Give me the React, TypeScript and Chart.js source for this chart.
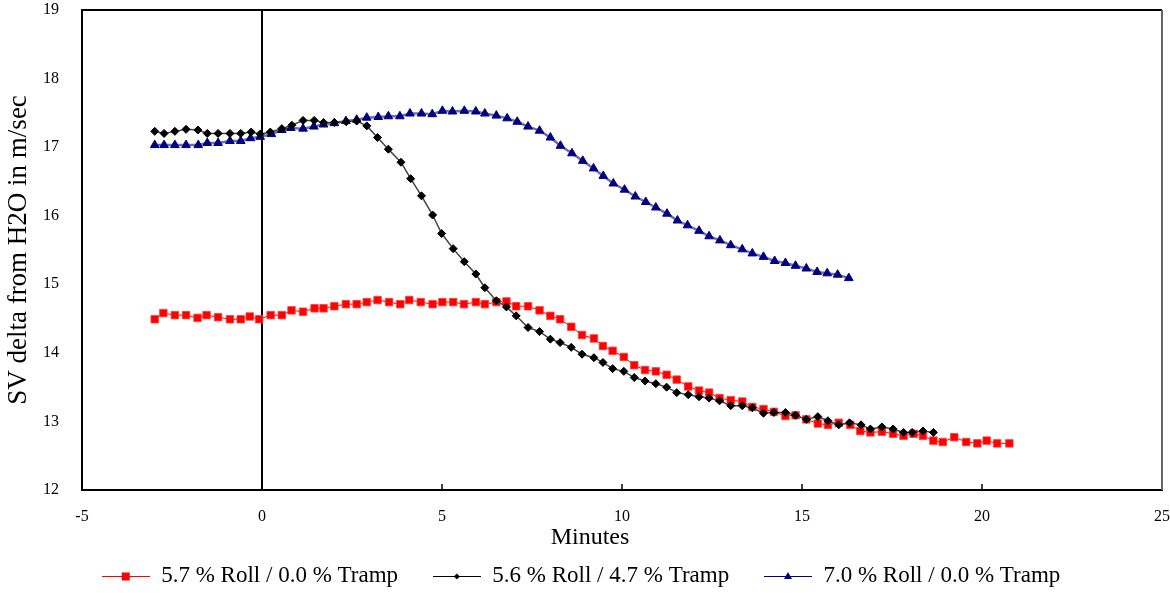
import React, { useEffect, useRef } from 'react';
import { Chart, registerables } from 'chart.js';

Chart.register(...registerables);

const FONT = "'Liberation Serif', 'Times New Roman', serif";

const seriesLabels = [
  '5.7 % Roll / 0.0 % Tramp',
  '5.6 % Roll / 4.7 % Tramp',
  '7.0 % Roll / 0.0 % Tramp',
];

const xTickValues = [-5, 0, 5, 10, 15, 20, 25];
const yTickValues = [12, 13, 14, 15, 16, 17, 18, 19];

const redX = [-2.98, -2.74, -2.42, -2.11, -1.79, -1.54, -1.22, -0.89, -0.59, -0.34, -0.08, 0.24, 0.55, 0.82, 1.14, 1.46, 1.71, 2.01, 2.33, 2.63, 2.91, 3.21, 3.53, 3.84, 4.09, 4.41, 4.74, 5.01, 5.31, 5.61, 5.94, 6.19, 6.51, 6.79, 7.06, 7.39, 7.71, 8.01, 8.28, 8.59, 8.89, 9.22, 9.47, 9.74, 10.05, 10.34, 10.64, 10.94, 11.24, 11.52, 11.84, 12.14, 12.42, 12.71, 13.02, 13.34, 13.62, 13.93, 14.22, 14.54, 14.82, 15.12, 15.44, 15.72, 16.02, 16.34, 16.62, 16.9, 17.22, 17.53, 17.82, 18.1, 18.36, 18.65, 18.91, 19.23, 19.56, 19.87, 20.13, 20.42, 20.76];
const redY = [14.49, 14.58, 14.55, 14.55, 14.51, 14.55, 14.52, 14.49, 14.49, 14.53, 14.49, 14.55, 14.55, 14.62, 14.6, 14.65, 14.65, 14.68, 14.71, 14.71, 14.74, 14.77, 14.74, 14.71, 14.77, 14.74, 14.71, 14.74, 14.74, 14.71, 14.74, 14.71, 14.74, 14.75, 14.68, 14.68, 14.62, 14.54, 14.49, 14.38, 14.26, 14.21, 14.1, 14.03, 13.94, 13.82, 13.75, 13.73, 13.68, 13.61, 13.51, 13.45, 13.42, 13.34, 13.31, 13.29, 13.21, 13.18, 13.14, 13.08, 13.09, 13.03, 12.97, 12.95, 12.98, 12.95, 12.86, 12.84, 12.85, 12.82, 12.79, 12.82, 12.79, 12.72, 12.7, 12.77, 12.7, 12.68, 12.72, 12.68, 12.68];

const blackX = [-2.98, -2.72, -2.42, -2.11, -1.78, -1.52, -1.22, -0.89, -0.59, -0.3, -0.05, 0.23, 0.55, 0.83, 1.14, 1.45, 1.71, 2.01, 2.34, 2.63, 2.91, 3.21, 3.51, 3.86, 4.13, 4.43, 4.74, 4.99, 5.31, 5.62, 5.94, 6.19, 6.51, 6.79, 7.06, 7.39, 7.71, 8.01, 8.28, 8.59, 8.89, 9.22, 9.47, 9.74, 10.05, 10.34, 10.64, 10.94, 11.24, 11.52, 11.84, 12.14, 12.42, 12.71, 13.02, 13.34, 13.62, 13.93, 14.22, 14.54, 14.82, 15.12, 15.44, 15.72, 16.02, 16.32, 16.64, 16.9, 17.22, 17.53, 17.82, 18.06, 18.36, 18.65];
const blackY = [17.23, 17.2, 17.23, 17.26, 17.25, 17.2, 17.2, 17.2, 17.2, 17.22, 17.19, 17.22, 17.27, 17.32, 17.39, 17.39, 17.36, 17.36, 17.37, 17.38, 17.31, 17.14, 16.97, 16.78, 16.54, 16.29, 16.01, 15.74, 15.52, 15.33, 15.15, 14.95, 14.76, 14.67, 14.54, 14.37, 14.31, 14.2, 14.15, 14.08, 13.98, 13.93, 13.86, 13.77, 13.73, 13.64, 13.59, 13.55, 13.5, 13.42, 13.39, 13.36, 13.34, 13.3, 13.23, 13.23, 13.2, 13.12, 13.13, 13.13, 13.09, 13.03, 13.07, 13.01, 12.95, 12.98, 12.95, 12.89, 12.92, 12.89, 12.84, 12.84, 12.86, 12.84];

const blueX = [-2.98, -2.72, -2.42, -2.11, -1.77, -1.52, -1.22, -0.89, -0.59, -0.32, -0.05, 0.26, 0.55, 0.8, 1.14, 1.44, 1.71, 2.01, 2.33, 2.63, 2.91, 3.23, 3.51, 3.83, 4.11, 4.43, 4.73, 5.01, 5.29, 5.62, 5.94, 6.19, 6.51, 6.81, 7.09, 7.39, 7.71, 8.01, 8.29, 8.61, 8.91, 9.21, 9.48, 9.76, 10.07, 10.37, 10.66, 10.94, 11.25, 11.54, 11.82, 12.14, 12.42, 12.72, 13.02, 13.34, 13.62, 13.93, 14.24, 14.54, 14.82, 15.12, 15.42, 15.7, 15.99, 16.3];
const blueY = [17.03, 17.03, 17.03, 17.03, 17.03, 17.06, 17.06, 17.09, 17.09, 17.13, 17.15, 17.19, 17.25, 17.28, 17.27, 17.3, 17.33, 17.35, 17.38, 17.4, 17.43, 17.44, 17.45, 17.45, 17.49, 17.49, 17.48, 17.53, 17.52, 17.53, 17.52, 17.49, 17.46, 17.42, 17.37, 17.3, 17.24, 17.14, 17.02, 16.91, 16.8, 16.69, 16.58, 16.47, 16.38, 16.28, 16.2, 16.12, 16.03, 15.93, 15.86, 15.78, 15.7, 15.64, 15.57, 15.51, 15.45, 15.4, 15.34, 15.31, 15.27, 15.23, 15.18, 15.16, 15.14, 15.09];

const toPoints = (xs: number[], ys: number[]) => xs.map((x, i) => ({ x, y: ys[i] }));

function legendGlyph(kind: 'rect' | 'diamond' | 'triangle', color: string): HTMLCanvasElement {
  const c = document.createElement('canvas');
  c.width = 48;
  c.height = 14;
  const g = c.getContext('2d')!;
  g.strokeStyle = color;
  g.fillStyle = color;
  g.lineWidth = 1;
  g.beginPath();
  g.moveTo(0, 7.5);
  g.lineTo(48, 7.5);
  g.stroke();
  g.beginPath();
  if (kind === 'rect') {
    g.rect(20, 3.5, 8, 8);
  } else if (kind === 'diamond') {
    g.moveTo(24, 4.5);
    g.lineTo(27, 7.5);
    g.lineTo(24, 10.5);
    g.lineTo(21, 7.5);
    g.closePath();
  } else {
    g.moveTo(24, 3);
    g.lineTo(28, 10);
    g.lineTo(20, 10);
    g.closePath();
  }
  g.fill();
  return c;
}

const framePlugin = {
  id: 'frame',
  afterLayout(chart: any) {
    const t = chart.titleBlock;
    if (t) {
      t.left = 10;
      t.right = 1170;
    }
  },
  beforeDatasetsDraw(chart: any) {
    const { ctx, chartArea: a, scales } = chart;
    ctx.save();
    ctx.lineWidth = 2;
    ctx.strokeStyle = '#000';
    ctx.beginPath();
    ctx.moveTo(a.left - 1, a.top);
    ctx.lineTo(a.right, a.top);
    ctx.stroke();
    ctx.strokeStyle = '#666';
    ctx.beginPath();
    ctx.moveTo(a.right, a.top);
    ctx.lineTo(a.right, a.bottom);
    ctx.stroke();
    ctx.strokeStyle = '#000';
    ctx.lineWidth = 1.5;
    scales.x.ticks.forEach((t: any) => {
      if (t.value > -5 && t.value < 25 && t.value !== 0) {
        const px = scales.x.getPixelForValue(t.value);
        ctx.beginPath();
        ctx.moveTo(px, a.bottom);
        ctx.lineTo(px, a.bottom - 6);
        ctx.stroke();
      }
    });
    ctx.restore();
  },
};

export default function App() {
  const ref = useRef<HTMLCanvasElement | null>(null);

  useEffect(() => {
    if (!ref.current) return;
    const glyphs = [
      legendGlyph('rect', '#ff0000'),
      legendGlyph('diamond', '#000000'),
      legendGlyph('triangle', '#000080'),
    ];
    const chart = new Chart(ref.current, {
      type: 'line',
      data: {
        datasets: [
          {
            label: seriesLabels[0],
            data: toPoints(redX, redY),
            borderColor: '#ff0000',
            borderWidth: 1,
            pointStyle: 'rect',
            pointRadius: 5.3,
            pointBackgroundColor: '#ff0000',
            pointBorderColor: 'rgba(255,60,60,0.8)',
            pointBorderWidth: 1,
            tension: 0,
            order: 1,
          },
          {
            label: seriesLabels[1],
            data: toPoints(blackX, blackY),
            borderColor: '#444444',
            borderWidth: 1.5,
            pointStyle: 'rectRot',
            pointRadius: 4,
            pointBackgroundColor: '#000000',
            pointBorderColor: '#000000',
            pointBorderWidth: 1,
            tension: 0,
            order: 0,
          },
          {
            label: seriesLabels[2],
            data: toPoints(blueX, blueY),
            borderColor: 'rgba(60,60,160,0.75)',
            borderWidth: 2.5,
            pointStyle: 'triangle',
            pointRadius: 5,
            pointBackgroundColor: '#000080',
            pointBorderColor: '#000080',
            pointBorderWidth: 1,
            tension: 0,
            order: 2,
          },
        ],
      },
      options: {
        animation: false,
        responsive: false,
        devicePixelRatio: 1,
        events: [],
        layout: { padding: { left: 0, right: 8, top: 10, bottom: -4.5 } },
        scales: {
          x: {
            type: 'linear',
            min: -5,
            max: 25,
            afterBuildTicks: (scale: any) => {
              scale.ticks = xTickValues.map((v) => ({ value: v }));
            },
            afterFit: (scale: any) => {
              scale.height = 32;
            },
            ticks: {
              padding: 0,
              color: '#000',
              font: { size: 16, family: FONT },
            },
            grid: {
              display: true,
              drawOnChartArea: true,
              drawTicks: true,
              tickLength: 17.4,
              tickColor: 'rgba(0,0,0,0)',
              color: (c: any) => (c.tick && c.tick.value === 0 ? '#000' : 'rgba(0,0,0,0)'),
              lineWidth: 2,
            },
            border: { display: true, color: '#000', width: 2 },
          },
          y: {
            type: 'linear',
            min: 12,
            max: 19,
            afterBuildTicks: (scale: any) => {
              scale.ticks = yTickValues.map((v) => ({ value: v }));
            },
            afterFit: (scale: any) => {
              scale.width = 82;
            },
            ticks: {
              padding: 0,
              color: '#000',
              font: { size: 16, family: FONT },
            },
            grid: {
              display: true,
              drawOnChartArea: false,
              drawTicks: true,
              tickLength: 23,
              tickColor: 'rgba(0,0,0,0)',
              color: 'rgba(0,0,0,0)',
            },
            border: { display: true, color: '#000', width: 2 },
            title: {
              display: true,
              text: 'SV delta from H2O in m/sec',
              color: '#000',
              font: { size: 27, family: FONT },
              padding: { top: 2.8, bottom: 0 },
            },
          },
        },
        plugins: {
          tooltip: { enabled: false },
          title: {
            display: true,
            text: 'Minutes',
            position: 'bottom',
            fullSize: true,
            weight: 500,
            color: '#000',
            font: { size: 24, weight: 'normal', family: FONT },
            padding: { top: 1.6, bottom: -22.7 },
          },
          legend: {
            display: true,
            position: 'bottom',
            labels: {
              usePointStyle: true,
              pointStyleWidth: 48,
              padding: 34.8,
              color: '#000',
              font: { size: 23, family: FONT },
              generateLabels: () =>
                seriesLabels.map((text, i) => ({
                  text,
                  pointStyle: glyphs[i],
                  fillStyle: 'rgba(0,0,0,0)',
                  strokeStyle: 'rgba(0,0,0,0)',
                  lineWidth: 0,
                  hidden: false,
                  datasetIndex: i,
                  fontColor: '#000',
                })),
            },
          },
        },
      } as any,
      plugins: [framePlugin],
    });
    return () => chart.destroy();
  }, []);

  return (
    <div style={{ position: 'fixed', left: 0, top: 0, width: 1170, height: 593, background: '#fff' }}>
      <canvas ref={ref} width={1170} height={593} style={{ display: 'block', width: 1170, height: 593 }} />
    </div>
  );
}
